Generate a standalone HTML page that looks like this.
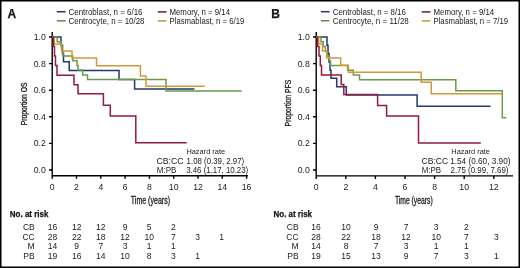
<!DOCTYPE html>
<html><head><meta charset="utf-8"><style>
html,body{margin:0;padding:0;background:#fff;width:520px;height:268px;overflow:hidden}
svg{display:block;will-change:transform}
text{font-family:"Liberation Sans",sans-serif;fill:#1a1a1a}
.ax{stroke:#000;stroke-width:1.4;fill:none}
.c{fill:none;stroke-width:1.5;stroke-linejoin:miter}
.b{stroke:#1f3a6c}.g{stroke:#6a9a4c}.o{stroke:#d49832}.r{stroke:#941a3f}
.lg{font-size:9px}
.tk{font-size:8.7px}
.hz{font-size:8px}
.nr{font-size:8.5px}
.hv{stroke:#1a1a1a;stroke-width:0.3}
</style></head><body>
<svg width="520" height="268" viewBox="0 0 520 268">
<rect x="0.75" y="0.75" width="518.5" height="266.5" fill="#fff" stroke="#000" stroke-width="1.5"/>

<!-- ============ PANEL A ============ -->
<text x="7.4" y="18.2" font-size="12" font-weight="bold" fill="#000" stroke="#000" stroke-width="0.25">A</text>
<!-- legend -->
<path d="M56.8,11.75 H65.6" class="c" stroke="#27365a" stroke-width="2"/>
<text x="68.5" y="14.9" class="lg" textLength="74" lengthAdjust="spacingAndGlyphs">Centroblast, n = 6/16</text>
<path d="M56.8,20.8 H65.6" class="c" stroke="#64874a" stroke-width="2"/>
<text x="68.5" y="23.7" class="lg" textLength="76" lengthAdjust="spacingAndGlyphs">Centrocyte, n = 10/28</text>
<path d="M157.8,11.9 H166.5" class="c" stroke="#6a1830" stroke-width="2"/>
<text x="169.5" y="14.9" class="lg" textLength="60.5" lengthAdjust="spacingAndGlyphs">Memory, n = 9/14</text>
<path d="M157.8,20.9 H166.5" class="c" stroke="#c29a3c" stroke-width="2"/>
<text x="169.5" y="23.7" class="lg" textLength="74.8" lengthAdjust="spacingAndGlyphs">Plasmablast, n = 6/19</text>

<!-- axes -->
<path class="ax" d="M52.2,32 V178.8 M49,37 H52.2 M49,63.6 H52.2 M49,90.2 H52.2 M49,116.8 H52.2 M49,143.4 H52.2 M49,170 H52.2"/>
<path class="ax" d="M52.2,175.7 H248 M76.5,175.7 V178.8 M100.8,175.7 V178.8 M125.1,175.7 V178.8 M149.4,175.7 V178.8 M173.7,175.7 V178.8 M198,175.7 V178.8 M222.3,175.7 V178.8 M246.6,175.7 V178.8"/>
<g class="tk" text-anchor="end">
<text x="45.8" y="40">1.0</text><text x="45.8" y="66.6">0.8</text><text x="45.8" y="93.2">0.6</text>
<text x="45.8" y="119.8">0.4</text><text x="45.8" y="146.4">0.2</text><text x="45.8" y="173">0.0</text>
</g>
<g class="tk" text-anchor="middle">
<text x="52.2" y="189.8">0</text><text x="76.5" y="189.8">2</text><text x="100.8" y="189.8">4</text><text x="125.1" y="189.8">6</text>
<text x="149.4" y="189.8">8</text><text x="173.7" y="189.8">10</text><text x="198" y="189.8">12</text><text x="222.3" y="189.8">14</text><text x="246.6" y="189.8">16</text>
</g>
<text x="130.8" y="203.9" font-size="10" class="hv" textLength="39.2" lengthAdjust="spacingAndGlyphs">Time (years)</text>
<text transform="translate(27.3,125.3) rotate(-90)" class="hv" font-size="8.8" textLength="42.8" lengthAdjust="spacingAndGlyphs">Proportion OS</text>

<!-- curves A -->
<path class="c b" d="M52.2,37 H61 V45.3 H62.5 V53.6 H63.5 V61.8 H69.2 V70.5 H119 V79.5 H134.6 V89 H194.5"/>
<path class="c g" d="M52.2,37 H57.2 V41.75 H61.3 V46.5 H62 V51.25 H63 V56 H72.7 V60.8 H77 V65.5 H78 V70 H82.7 V75 H87.5 V79.5 H166 V91.1 H241.7"/>
<path class="c o" d="M52.2,37 H54 V44 H61.5 V51 H72 V58 H96.5 V65.8 H140.4 V76 H146 V86.3 H204.7"/>
<path class="c r" d="M52.2,37 H53.5 V46.5 H54.5 V56 H55.5 V65.5 H57 V75.3 H74 V84.7 H78 V93.8 H103.4 V105.3 H110.3 V116 H135.8 V142.8 H186.7"/>

<!-- hazard A -->
<g class="hz">
<text x="186.4" y="154.2" textLength="38.7" lengthAdjust="spacingAndGlyphs">Hazard rate</text>
<text x="156.4" y="163.8" textLength="27.3" lengthAdjust="spacingAndGlyphs" font-size="8.7">CB:CC</text>
<text x="186.6" y="163.8" textLength="57.6" lengthAdjust="spacingAndGlyphs" font-size="8.7">1.08 (0.39, 2.97)</text>
<text x="156.8" y="172.8" textLength="19.5" lengthAdjust="spacingAndGlyphs" font-size="8.7">M:PB</text>
<text x="186.2" y="172.8" textLength="62" lengthAdjust="spacingAndGlyphs" font-size="8.7">3.46 (1.17, 10.23)</text>
</g>

<!-- at risk A -->
<text x="9.8" y="216.6" font-size="9" font-weight="bold" fill="#000" stroke="#000" stroke-width="0.25" textLength="38.6" lengthAdjust="spacingAndGlyphs">No. at risk</text>
<g class="nr" text-anchor="end">
<text x="34.7" y="230">CB</text><text x="34.7" y="239.5">CC</text><text x="34.7" y="249">M</text><text x="34.7" y="258.5">PB</text>
</g>
<g class="nr" text-anchor="middle">
<text y="230"><tspan x="52.5">16</tspan><tspan x="76.7">12</tspan><tspan x="100.8">12</tspan><tspan x="125.0">9</tspan><tspan x="149.2">5</tspan><tspan x="173.4">2</tspan></text>
<text y="239.5"><tspan x="52.5">28</tspan><tspan x="76.7">22</tspan><tspan x="100.8">18</tspan><tspan x="125.0">12</tspan><tspan x="149.2">10</tspan><tspan x="173.4">7</tspan><tspan x="197.5">3</tspan><tspan x="221.7">1</tspan></text>
<text y="249"><tspan x="52.5">14</tspan><tspan x="76.7">9</tspan><tspan x="100.8">7</tspan><tspan x="125.0">3</tspan><tspan x="149.2">1</tspan><tspan x="173.4">1</tspan></text>
<text y="258.5"><tspan x="52.5">19</tspan><tspan x="76.7">16</tspan><tspan x="100.8">14</tspan><tspan x="125.0">10</tspan><tspan x="149.2">8</tspan><tspan x="173.4">3</tspan><tspan x="197.5">1</tspan></text>
</g>

<!-- ============ PANEL B ============ -->
<text x="271.2" y="18.2" font-size="12" font-weight="bold" fill="#000" stroke="#000" stroke-width="0.25">B</text>
<path d="M320.9,11.7 H329.6" class="c" stroke="#27365a" stroke-width="2"/>
<text x="332.8" y="14.9" class="lg" textLength="73" lengthAdjust="spacingAndGlyphs">Centroblast, n = 8/16</text>
<path d="M320.9,20.75 H329.4" class="c" stroke="#64874a" stroke-width="2"/>
<text x="332.8" y="23.7" class="lg" textLength="76" lengthAdjust="spacingAndGlyphs">Centrocyte, n = 11/28</text>
<path d="M421.7,11.9 H430.4" class="c" stroke="#6a1830" stroke-width="2"/>
<text x="433.5" y="14.9" class="lg" textLength="60.7" lengthAdjust="spacingAndGlyphs">Memory, n = 9/14</text>
<path d="M421.7,20.9 H430.4" class="c" stroke="#c29a3c" stroke-width="2"/>
<text x="433.5" y="23.7" class="lg" textLength="74.5" lengthAdjust="spacingAndGlyphs">Plasmablast, n = 7/19</text>

<path class="ax" d="M316.2,32 V179 M313,37 H316.2 M313,63.6 H316.2 M313,90.2 H316.2 M313,116.8 H316.2 M313,143.4 H316.2 M313,170 H316.2"/>
<path class="ax" d="M316.2,175.9 H513 M345.8,175.9 V179 M375.4,175.9 V179 M405,175.9 V179 M434.6,175.9 V179 M464.2,175.9 V179 M493.8,175.9 V179"/>
<g class="tk" text-anchor="end">
<text x="309.8" y="40">1.0</text><text x="309.8" y="66.6">0.8</text><text x="309.8" y="93.2">0.6</text>
<text x="309.8" y="119.8">0.4</text><text x="309.8" y="146.4">0.2</text><text x="309.8" y="173">0.0</text>
</g>
<g class="tk" text-anchor="middle">
<text x="316.2" y="189.8">0</text><text x="345.8" y="189.8">2</text><text x="375.4" y="189.8">4</text><text x="405" y="189.8">6</text>
<text x="434.6" y="189.8">8</text><text x="464.2" y="189.8">10</text><text x="493.8" y="189.8">12</text>
</g>
<text x="394.9" y="203.9" font-size="10" class="hv" textLength="37.8" lengthAdjust="spacingAndGlyphs">Time (years)</text>
<text transform="translate(291.1,126.4) rotate(-90)" class="hv" font-size="8.8" textLength="46.6" lengthAdjust="spacingAndGlyphs">Proportion PFS</text>

<!-- curves B -->
<path class="c b" d="M316.2,37 H327 V45.3 H328 V53.6 H329 V61.9 H330 V70.2 H331 V78.3 H336.7 V86.8 H346.3 V94.9 H417.1 V106.2 H490.6"/>
<path class="c g" d="M316.2,37 H321 V41.75 H323.2 V46.5 H325.4 V51.25 H327.1 V56 H329.4 V60.75 H330.5 V65.5 H347.6 V70.25 H353.3 V75 H359.5 V79.8 H455.8 V90.8 H502.3 V117.8 H506.3"/>
<path class="c o" d="M316.2,37 H318.7 V44 H322.6 V51 H326.6 V58 H340.7 V65.2 H348.4 V72.3 H421.2 V82.3 H431.3 V93.8 H502.3"/>
<path class="c r" d="M316.2,37 H317.5 V46.5 H319 V56 H320.3 V65.5 H321.5 V75 H341.2 V84.5 H343.8 V94.6 H377.6 V105.5 H386.6 V116.1 H418.5 V143.1 H480.8"/>

<g class="hz">
<text x="451.3" y="154.2" textLength="38.6" lengthAdjust="spacingAndGlyphs">Hazard rate</text>
<text x="421.5" y="163.8" textLength="26.8" lengthAdjust="spacingAndGlyphs" font-size="8.7">CB:CC</text>
<text x="450.2" y="163.8" textLength="60.3" lengthAdjust="spacingAndGlyphs" font-size="8.7">1.54 (0.60, 3.90)</text>
<text x="421.8" y="172.8" textLength="19.3" lengthAdjust="spacingAndGlyphs" font-size="8.7">M:PB</text>
<text x="450.5" y="172.8" textLength="58" lengthAdjust="spacingAndGlyphs" font-size="8.7">2.75 (0.99, 7.69)</text>
</g>

<text x="273.6" y="216.6" font-size="9" font-weight="bold" fill="#000" stroke="#000" stroke-width="0.25" textLength="38.4" lengthAdjust="spacingAndGlyphs">No. at risk</text>
<g class="nr" text-anchor="end">
<text x="298.6" y="230">CB</text><text x="298.6" y="239.5">CC</text><text x="298.6" y="249">M</text><text x="298.6" y="258.5">PB</text>
</g>
<g class="nr" text-anchor="middle">
<text y="230"><tspan x="315.9">16</tspan><tspan x="346.0">10</tspan><tspan x="376.1">9</tspan><tspan x="406.1">7</tspan><tspan x="436.2">3</tspan><tspan x="466.3">2</tspan></text>
<text y="239.5"><tspan x="315.9">28</tspan><tspan x="346.0">22</tspan><tspan x="376.1">18</tspan><tspan x="406.1">12</tspan><tspan x="436.2">10</tspan><tspan x="466.3">7</tspan><tspan x="496.4">3</tspan></text>
<text y="249"><tspan x="315.9">14</tspan><tspan x="346.0">8</tspan><tspan x="376.1">7</tspan><tspan x="406.1">3</tspan><tspan x="436.2">1</tspan><tspan x="466.3">1</tspan></text>
<text y="258.5"><tspan x="315.9">19</tspan><tspan x="346.0">15</tspan><tspan x="376.1">13</tspan><tspan x="406.1">9</tspan><tspan x="436.2">7</tspan><tspan x="466.3">3</tspan><tspan x="496.4">1</tspan></text>
</g>
</svg>
</body></html>
